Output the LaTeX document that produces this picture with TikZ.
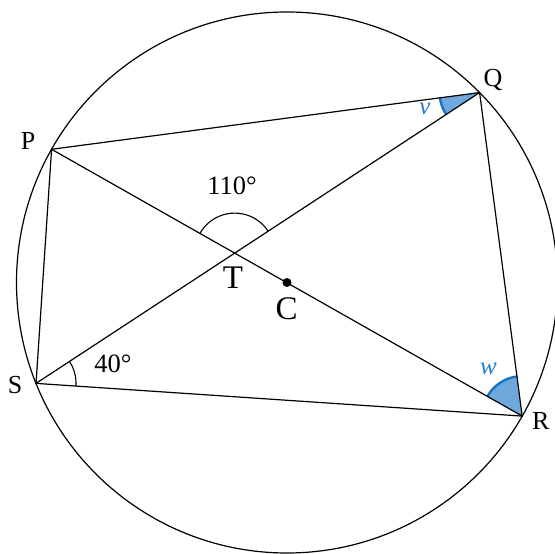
\documentclass[tikz,border=0pt]{standalone}
\usepackage{fontspec}
\setmainfont{Liberation Serif}
\usetikzlibrary{angles,calc}
\definecolor{angfill}{RGB}{110,168,220}
\definecolor{angline}{RGB}{25,115,195}
\definecolor{anglabel}{RGB}{35,125,205}
\tikzset{
  geo/.style={line width=1.2pt, black},
  vlabel/.style={anchor=base, inner sep=0pt, font=\fontsize{26}{30}\selectfont},
  biglabel/.style={anchor=base, inner sep=0pt, font=\fontsize{33}{36}\selectfont},
  deglabel/.style={anchor=base, inner sep=0pt, font=\fontsize{26.5}{30}\selectfont},
  bluelabel/.style={anchor=base, inner sep=0pt, text=anglabel, font=\fontsize{25}{28}\selectfont\itshape},
  plainang/.style={draw, line width=1.1pt, angle radius=40pt},
  blueang/.style={fill=angfill, draw=angline, line width=2.4pt, angle radius=40pt},
}
\begin{document}
\begin{tikzpicture}[x=1pt,y=1pt]
\useasboundingbox (0,0) rectangle (555,554);
\clip (0,0) rectangle (555,554);
\coordinate (C) at (287,271.5);
\coordinate (P) at ($(C)+(150.5:270.5)$);
\coordinate (Q) at ($(C)+(44.6:270.5)$);
\coordinate (R) at ($(C)+(-29.6:270.5)$);
\coordinate (S) at ($(C)+(201.9:270.5)$);
\coordinate (T) at (intersection of P--R and Q--S);
% shaded angles
\pic[blueang] {angle = P--Q--S};
\pic[blueang] {angle = Q--R--P};
% plain angles
\pic[plainang] {angle = Q--T--P};
\pic[plainang] {angle = R--S--Q};
% circle and lines
\draw[geo] (C) circle[radius=270.5];
\draw[geo] (P) -- (Q) -- (R) -- (S) -- cycle;
\draw[geo] (P) -- (R);
\draw[geo] (Q) -- (S);
\fill (C) circle[radius=4.5];
% labels
\node[vlabel] (lP) at (28,404.7) {P};
\node[vlabel] (lQ) at (493,467.3) {Q};
\node[vlabel] (lR) at (540.7,124) {R};
\node[vlabel] (lS) at (15,160) {S};
\node[biglabel] (lT) at (233,265) {T};
\node[biglabel] (lC) at (286.7,234.5) {C};
\node[deglabel] (l110) at (232,359) {110°};
\node[deglabel] (l40) at (113,181.3) {40°};
\node[bluelabel] (lv) at (425,439) {v};
\node[bluelabel] (lw) at (488.5,179) {w};
\end{tikzpicture}
\end{document}
